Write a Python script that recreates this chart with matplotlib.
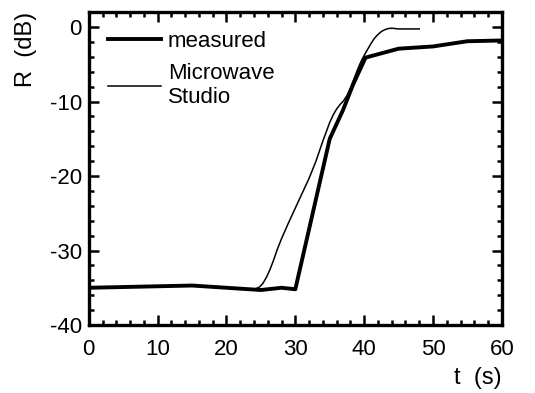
import matplotlib as mpl
mpl.use("Agg")
import matplotlib.pyplot as plt
from matplotlib.ticker import MultipleLocator

mpl.rcParams['font.family'] = ['Liberation Sans', 'DejaVu Sans']
mpl.rcParams['font.size'] = 16
mpl.rcParams['axes.unicode_minus'] = False

# measured reflection
t_meas = [0, 15, 20, 25, 28, 30, 35, 36.9, 38.4, 40.2, 45, 50, 55, 60]
r_meas = [-35, -34.7, -35, -35.3, -35, -35.2, -15, -11.2, -7.7, -4.1, -2.9, -2.6, -1.9, -1.8]

# Microwave Studio simulation
t_sim = [24.3, 24.8, 25.3, 25.8, 26.3, 26.8, 27.4, 28, 29, 30, 31, 32, 33, 34, 35,
         35.5, 36, 36.5, 37, 37.5, 38, 38.5, 39, 39.5, 40, 40.5, 41, 41.5, 42,
         42.5, 43, 43.5, 44, 44.5, 45, 48]
r_sim = [-35.1, -34.9, -34.4, -33.6, -32.6, -31.4, -29.8, -28.4, -26.3, -24.3, -22.3,
         -20.3, -18, -15.3, -12.8, -11.8, -11, -10.4, -9.9, -9.2, -8.2, -7, -5.8,
         -4.7, -3.8, -3, -2.2, -1.5, -1, -0.6, -0.35, -0.2, -0.15, -0.2, -0.25, -0.25]

fig = plt.figure(figsize=(5.35, 3.93), dpi=100)
ax = fig.add_axes([0.166, 0.173, 0.772, 0.796])

ax.plot(t_meas, r_meas, 'k-', lw=2.8, label='measured')
ax.plot(t_sim, r_sim, 'k-', lw=1.1, label='Microwave\nStudio')

ax.set_xlim(0, 60)
ax.set_ylim(-40, 2)
ax.xaxis.set_major_locator(MultipleLocator(10))
ax.xaxis.set_minor_locator(MultipleLocator(2))
ax.yaxis.set_major_locator(MultipleLocator(10))
ax.yaxis.set_minor_locator(MultipleLocator(2))
ax.tick_params(which='both', direction='in', top=True, right=True, width=1.8)
ax.tick_params(which='major', length=7)
ax.tick_params(which='minor', length=3.5)
ax.tick_params(axis='x', which='major', pad=10)
ax.tick_params(axis='y', which='major', pad=5)
for sp in ax.spines.values():
    sp.set_linewidth(2.4)

ax.set_xlabel('t  (s)', loc='right', labelpad=5, fontsize=17)
ax.set_ylabel('R  (dB)', loc='top', labelpad=9, fontsize=17)

ax.legend(loc='upper left', frameon=False, handlelength=2.4, handletextpad=0.3,
          labelspacing=0.5, borderaxespad=0.55, borderpad=0.3, fontsize=16)

fig.savefig('out.png', dpi=100)
